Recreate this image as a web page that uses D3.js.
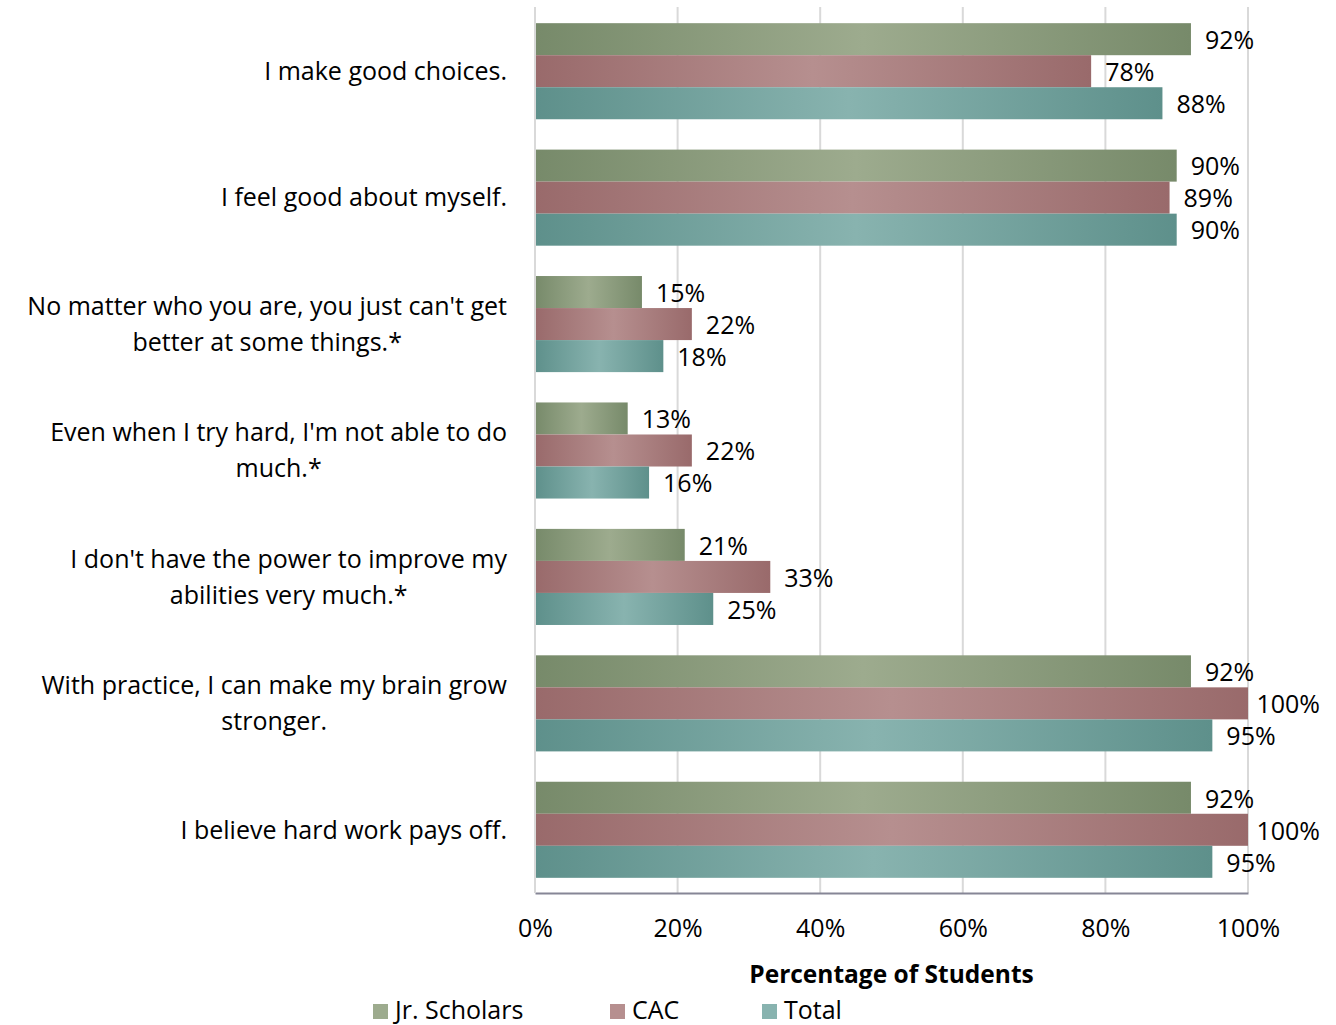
<!DOCTYPE html>
<html>
<head>
<meta charset="utf-8">
<script src="https://cdn.jsdelivr.net/npm/d3@7"></script>
<style>
  body { margin: 0; background: #fff; }
  svg { display: block; font-family: "Open Sans", Lato, sans-serif; }
</style>
</head>
<body>
<svg id="chart" width="1336" height="1025"></svg>
<script>
// Survey statements (two-line labels split with "\n")
const categories = [
  "I make good choices.",
  "I feel good about myself.",
  "No matter who you are, you just can't get\nbetter at some things.*",
  "Even when I try hard, I'm not able to do\nmuch.*",
  "I don't have the power to improve my\nabilities very much.*",
  "With practice, I can make my brain grow\nstronger.",
  "I believe hard work pays off."
];
const seriesNames = ["Jr. Scholars", "CAC", "Total"];
const jrScholars = [92, 90, 15, 13, 21, 92, 92];
const cac        = [78, 89, 22, 22, 33, 100, 100];
const total      = [88, 90, 18, 16, 25, 95, 95];
const xTicks = [0, 20, 40, 60, 80, 100];

const seriesValues = [jrScholars, cac, total];
// edge shade / centre highlight per series
const palette = [
  { dark: "#778a6a", light: "#9dab8e" },
  { dark: "#996a6b", light: "#b68f8f" },
  { dark: "#5e908b", light: "#88b3af" }
];

const FONT = 25;
const svg = d3.select("#chart");
const margin = { left: 535, right: 88, top: 8, bottom: 132 };
const W = 1336, H = 1025;
const innerW = W - margin.left - margin.right;
const innerH = H - margin.top - margin.bottom;

const x = d3.scaleLinear().domain([0, 100]).range([0, innerW]);
const y = d3.scaleBand().domain(d3.range(categories.length)).range([0, innerH]).paddingInner(0.24).paddingOuter(0.12);
const ySub = d3.scaleBand().domain(d3.range(seriesNames.length)).range([0, y.bandwidth()]);

const defs = svg.append("defs");
palette.forEach((p, i) => {
  const g = defs.append("linearGradient").attr("id", "grad" + i)
    .attr("x1", "0%").attr("x2", "100%").attr("y1", "0%").attr("y2", "0%");
  g.append("stop").attr("offset", "0%").attr("stop-color", p.dark);
  g.append("stop").attr("offset", "50%").attr("stop-color", p.light);
  g.append("stop").attr("offset", "100%").attr("stop-color", p.dark);
});

const plot = svg.append("g").attr("transform", `translate(${margin.left},${margin.top})`);

// vertical gridlines
plot.append("g").selectAll("line").data(xTicks).join("line")
  .attr("x1", d => x(d)).attr("x2", d => x(d))
  .attr("y1", -1).attr("y2", innerH)
  .attr("stroke", "#d9d9d9").attr("stroke-width", 2);

// bars
const groups = plot.append("g").selectAll("g").data(categories).join("g")
  .attr("transform", (d, i) => `translate(0,${y(i)})`);

seriesValues.forEach((vals, s) => {
  groups.append("rect")
    .attr("x", 0)
    .attr("y", ySub(s))
    .attr("width", (d, i) => x(vals[i]))
    .attr("height", ySub.bandwidth())
    .attr("fill", `url(#grad${s})`);
  groups.append("text")
    .attr("class", "value")
    .attr("y", ySub(s) + ySub.bandwidth() / 2 + 1)
    .attr("dy", "0.35em")
    .attr("font-size", FONT)
    .attr("fill", "#000")
    .text((d, i) => vals[i] + "%")
    .attr("x", function(d, i) {
      // keep labels inside the canvas near the right edge
      const w = this.getComputedTextLength();
      const maxX = W - margin.left - 16 - w;
      return Math.min(x(vals[i]) + 14, maxX);
    });
});

// x axis
const xAxis = plot.append("g").attr("transform", `translate(0,${innerH})`)
  .call(d3.axisBottom(x).tickValues(xTicks).tickFormat(d => d + "%").tickSize(0).tickPadding(26));
xAxis.select(".domain").attr("stroke", "#868696").attr("stroke-width", 2);
xAxis.selectAll("text").attr("font-size", FONT).attr("fill", "#000").attr("font-family", "'Open Sans', sans-serif");

// left axis line
plot.append("line").attr("x1", 0).attr("x2", 0).attr("y1", -1).attr("y2", innerH)
  .attr("stroke", "#d9d9d9").attr("stroke-width", 2);

// category labels
groups.append("text")
  .attr("class", "cat")
  .attr("text-anchor", "end")
  .attr("font-size", FONT)
  .attr("fill", "#000")
  .each(function(d) {
    const lines = d.split("\n");
    const t = d3.select(this);
    const bh = y.bandwidth();
    const lh = 36;
    const startY = bh / 2 - (lines.length - 1) * lh / 2;
    lines.forEach((ln, k) => {
      t.append("tspan")
        .attr("x", -28)
        .attr("y", startY + k * lh)
        .attr("dy", "0.35em")
        .text(ln);
    });
  });

// wrapped labels are centred on the longest line
groups.selectAll("text.cat").filter(function() { return this.childNodes.length > 1; })
  .each(function() {
    const spans = d3.select(this).selectAll("tspan");
    const widths = spans.nodes().map(n => n.getComputedTextLength());
    const maxW = d3.max(widths);
    spans.attr("text-anchor", "middle").attr("x", -28 - maxW / 2);
  });

// axis title
svg.append("text")
  .attr("x", margin.left + innerW / 2)
  .attr("y", 983)
  .attr("text-anchor", "middle")
  .attr("font-size", 24.5)
  .attr("font-weight", "bold")
  .attr("fill", "#000")
  .text("Percentage of Students");

// legend
const legendX = [373, 610, 762];
const legend = svg.append("g").selectAll("g").data(seriesNames).join("g")
  .attr("transform", (d, i) => `translate(${legendX[i]},1010)`);
legend.append("rect")
  .attr("x", 0).attr("y", -6).attr("width", 15).attr("height", 15)
  .attr("fill", (d, i) => palette[i].light);
legend.append("text")
  .attr("x", 22).attr("y", 0).attr("dy", "0.35em")
  .attr("font-size", FONT).attr("fill", "#000")
  .text(d => d);
</script>
</body>
</html>
